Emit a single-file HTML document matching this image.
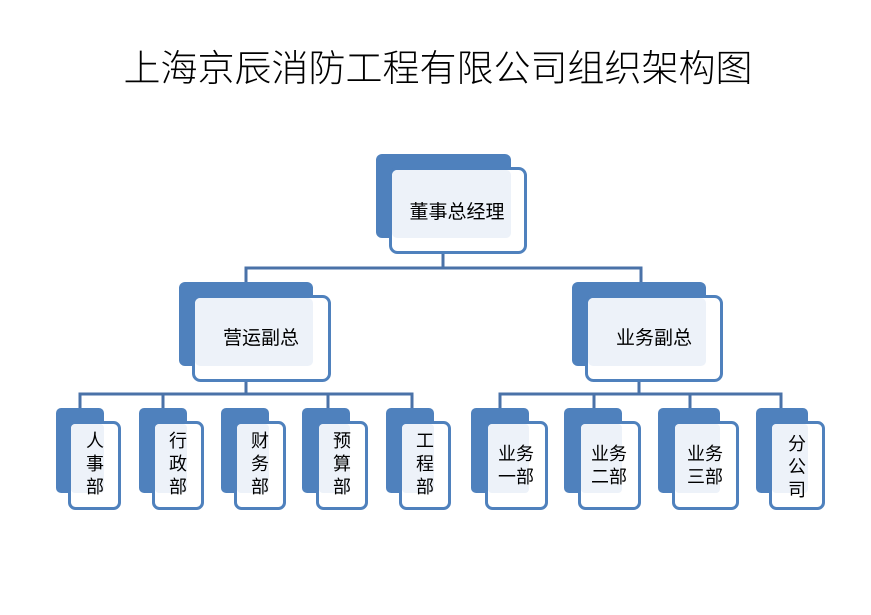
<!DOCTYPE html>
<html><head><meta charset="utf-8"><style>
body{margin:0;background:#fff}
svg text{font-family:"Liberation Sans","Noto Sans CJK SC",sans-serif;fill:#000}
.b{fill:#4F81BD}.f{fill:#fff;stroke:#4F81BD;stroke-width:3}.o{fill:#EDF2F9}
</style></head><body>
<svg width="871" height="610" xmlns="http://www.w3.org/2000/svg">
<text x="438" y="81" font-size="37" text-anchor="middle" style="font-weight:300;font-family:'Noto Sans CJK SC',sans-serif">上海京辰消防工程有限公司组织架构图</text>
<g stroke="#4A72A8" stroke-width="3" fill="none">
<polyline points="443,254 443,268"/>
<polyline points="246,282 246,268 641,268 641,282"/>
<polyline points="80,408 80,394 412,394 412,408"/>
<line x1="163" y1="394" x2="163" y2="408"/><line x1="328" y1="394" x2="328" y2="408"/>
<line x1="246" y1="382" x2="246" y2="394"/>
<polyline points="500,408 500,394 781,394 781,408"/>
<line x1="594" y1="394" x2="594" y2="408"/><line x1="690" y1="394" x2="690" y2="408"/>
<line x1="639" y1="382" x2="639" y2="394"/>
</g>
<rect class="b" x="376" y="154" width="135" height="84" rx="6"/><rect class="f" x="390.5" y="168.5" width="135" height="84" rx="7"/><rect class="o" x="392" y="170" width="119" height="68" rx="5"/>
<rect class="b" x="179" y="282" width="134" height="84" rx="6"/><rect class="f" x="193.5" y="296.5" width="136" height="84" rx="7"/><rect class="o" x="195" y="298" width="118" height="68" rx="5"/>
<rect class="b" x="572" y="282" width="134" height="84" rx="6"/><rect class="f" x="586.5" y="296.5" width="135" height="84" rx="7"/><rect class="o" x="588" y="298" width="118" height="68" rx="5"/>

<rect class="b" x="56" y="408" width="48" height="85" rx="5"/><rect class="f" x="69.5" y="422.5" width="50" height="86" rx="6"/><rect class="o" x="71" y="424" width="33" height="69" rx="4"/>
<rect class="b" x="139" y="408" width="48" height="85" rx="5"/><rect class="f" x="153.5" y="422.5" width="49" height="86" rx="6"/><rect class="o" x="155" y="424" width="32" height="69" rx="4"/>
<rect class="b" x="221" y="408" width="48" height="85" rx="5"/><rect class="f" x="235.5" y="422.5" width="49" height="86" rx="6"/><rect class="o" x="237" y="424" width="32" height="69" rx="4"/>
<rect class="b" x="302" y="408" width="48" height="85" rx="5"/><rect class="f" x="317.5" y="422.5" width="49" height="86" rx="6"/><rect class="o" x="319" y="424" width="31" height="69" rx="4"/>
<rect class="b" x="386" y="408" width="48" height="85" rx="5"/><rect class="f" x="400.5" y="422.5" width="49" height="86" rx="6"/><rect class="o" x="402" y="424" width="32" height="69" rx="4"/>
<rect class="b" x="471" y="408" width="58" height="85" rx="5"/><rect class="f" x="486.5" y="422.5" width="60" height="86" rx="6"/><rect class="o" x="488" y="424" width="41" height="69" rx="4"/>
<rect class="b" x="564" y="408" width="58" height="85" rx="5"/><rect class="f" x="579.5" y="422.5" width="60" height="86" rx="6"/><rect class="o" x="581" y="424" width="41" height="69" rx="4"/>
<rect class="b" x="658" y="408" width="62" height="85" rx="5"/><rect class="f" x="673.5" y="422.5" width="64" height="86" rx="6"/><rect class="o" x="675" y="424" width="45" height="69" rx="4"/>
<rect class="b" x="756" y="408" width="52" height="85" rx="5"/><rect class="f" x="770.5" y="422.5" width="53" height="86" rx="6"/><rect class="o" x="772" y="424" width="36" height="69" rx="4"/>

<g font-size="19" text-anchor="middle">
<text x="457" y="218">董事总经理</text>
<text x="261" y="344">营运副总</text>
<text x="654" y="344">业务副总</text>
</g>
<g font-size="18" text-anchor="middle">
<text x="95" y="447">人</text><text x="95" y="470">事</text><text x="95" y="493">部</text>
<text x="178" y="447">行</text><text x="178" y="470">政</text><text x="178" y="493">部</text>
<text x="260" y="447">财</text><text x="260" y="470">务</text><text x="260" y="493">部</text>
<text x="342" y="447">预</text><text x="342" y="470">算</text><text x="342" y="493">部</text>
<text x="425" y="447">工</text><text x="425" y="470">程</text><text x="425" y="493">部</text>
<text x="516" y="460">业务</text><text x="516" y="483">一部</text>
<text x="609" y="460">业务</text><text x="609" y="483">二部</text>
<text x="705" y="460">业务</text><text x="705" y="483">三部</text>
<text x="797" y="450">分</text><text x="797" y="473">公</text><text x="797" y="496">司</text>
</g>
</svg>
</body></html>
